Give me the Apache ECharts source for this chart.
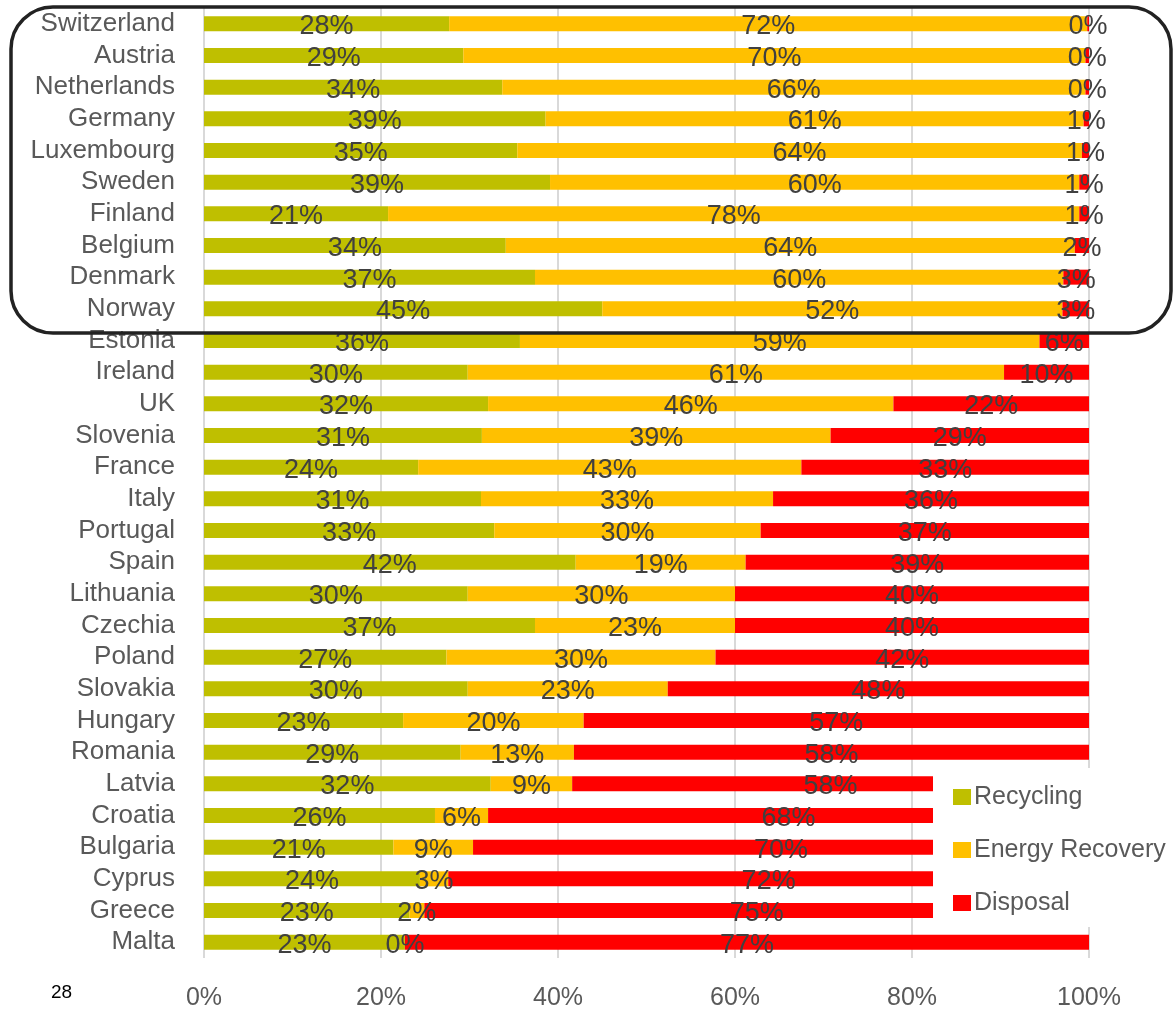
<!DOCTYPE html>
<html>
<head>
<meta charset="utf-8">
<script src="https://cdn.jsdelivr.net/npm/echarts@6/dist/echarts.min.js"></script>
<style>
html,body{margin:0;padding:0;background:#fff;}
#chart{width:1173px;height:1013px;}
</style>
</head>
<body>
<div id="chart"></div>
<script>
const countries = ["Switzerland","Austria","Netherlands","Germany","Luxembourg","Sweden","Finland","Belgium","Denmark","Norway","Estonia","Ireland","UK","Slovenia","France","Italy","Portugal","Spain","Lithuania","Czechia","Poland","Slovakia","Hungary","Romania","Latvia","Croatia","Bulgaria","Cyprus","Greece","Malta"];
const recycling = [27.7,29.3,33.7,38.6,35.4,39.1,20.8,34.1,37.4,45.0,35.7,29.8,32.1,31.4,24.2,31.3,32.8,42.0,29.8,37.4,27.4,29.8,22.5,29.0,32.4,26.1,21.4,24.4,23.2,22.7];
const energyRecovery = [72.1,70.3,65.9,60.8,63.8,59.8,78.1,64.3,59.7,52.0,58.7,60.6,45.8,39.4,43.3,33.0,30.1,19.2,30.2,22.6,30.4,22.6,20.4,12.8,9.2,6.0,9.0,3.2,1.7,0];
const disposal = [0.2,0.4,0.4,0.6,0.8,1.1,1.1,1.6,2.9,3.0,5.6,9.6,22.1,29.2,32.5,35.7,37.1,38.8,40.0,40.0,42.2,47.6,57.1,58.2,58.4,67.9,69.6,72.4,75.1,77.3];
const seriesNames = ["Recycling","Energy Recovery","Disposal"];
const seriesColors = ["#BFBF00","#FFC000","#FF0000"];
const xTicks = [0,20,40,60,80,100];

const FONT = "'Liberation Sans',Arial,sans-serif";
const chart = echarts.init(document.getElementById('chart'), null, {renderer:'canvas'});

function mk(name, data, color){
  return {
    name: name, type:'bar', stack:'total', data: data, barWidth: 15,
    itemStyle:{color: color},
    label:{show:true, position:'inside', offset:[0,3], color:'#404040', fontFamily:FONT, fontSize:27,
      formatter: p => Math.round(p.value) + '%'},
    emphasis:{disabled:true}
  };
}

chart.setOption({
  animation:false,
  grid:{left:204, right:84, top:8, bottom:55, containLabel:false},
  xAxis:{type:'value', min:0, max:100, interval:20,
    axisLine:{show:false}, axisTick:{show:false},
    splitLine:{show:true, lineStyle:{color:'#D9D9D9', width:2}},
    axisLabel:{color:'#595959', fontFamily:FONT, fontSize:25, margin:28,
      formatter: v => xTicks.indexOf(v) >= 0 ? v + '%' : ''}},
  yAxis:{type:'category', data:countries, inverse:true,
    axisLine:{show:false}, axisTick:{show:false},
    axisLabel:{interval:0, color:'#595959', fontFamily:FONT, fontSize:26, margin:29}},
  legend:{orient:'vertical', left:948, top:778, z:200, icon:'rect', itemWidth:18, itemHeight:16, itemGap:25,
    data:seriesNames,
    textStyle:{color:'#595959', fontFamily:FONT, fontSize:25, lineHeight:28, padding:[0,0,0,-2]}},
  graphic:[
    {type:'rect', z:100, shape:{x:933, y:768, width:240, height:159}, style:{fill:'#ffffff'}},
    {type:'rect', z:150, shape:{x:11, y:7, width:1160, height:326, r:42}, style:{fill:null, stroke:'#222222', lineWidth:3.5}},
    {type:'text', z:150, left:51, top:983, style:{text:'28', fill:'#000', font:"19px 'Liberation Sans', Arial, sans-serif"}}
  ],
  series:[
    mk(seriesNames[0], recycling, seriesColors[0]),
    mk(seriesNames[1], energyRecovery, seriesColors[1]),
    mk(seriesNames[2], disposal, seriesColors[2])
  ]
});
</script>
</body>
</html>
